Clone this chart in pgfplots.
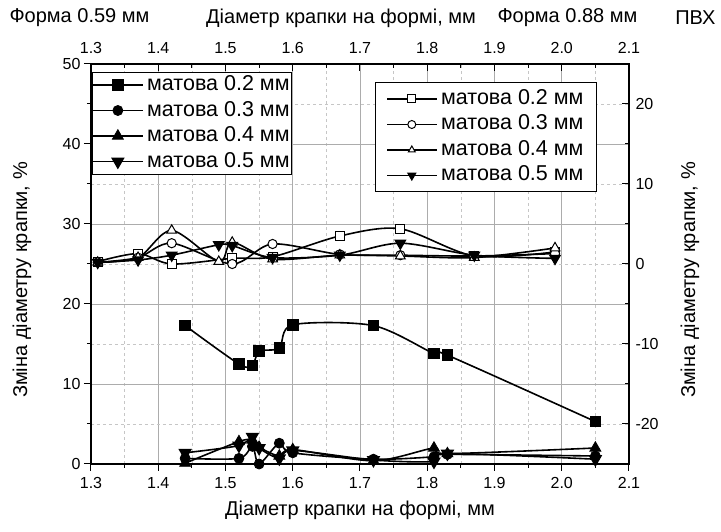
\documentclass[border=0pt]{standalone}
\usepackage{pgfplots}
\pgfplotsset{compat=1.18}
\usepackage{fontspec}
\setmainfont{Liberation Sans}

\newcommand{\tickfont}{\fontsize{16}{19}\selectfont}
\newcommand{\labfont}{\fontsize{20}{24}\selectfont}
\newcommand{\legfont}{\fontsize{21.5}{25}\selectfont}

\pgfplotsset{
  shared/.style={
    scale only axis, width=538pt, height=400pt,
    at={(0pt,0pt)}, anchor=south west,
    xmin=1.3, xmax=2.1,
    xtick={1.3,1.4,1.5,1.6,1.7,1.8,1.9,2.0,2.1},
    minor xtick={1.35,1.45,1.55,1.65,1.75,1.85,1.95,2.05},
    axis line style={line width=1.2pt},
    tick style={black, line width=1pt},
    major tick length=7pt, minor tick length=4pt,
    ticklabel style={font=\tickfont},
    /pgf/number format/assume math mode=true,
    xticklabel={\pgfmathprintnumber[fixed,fixed zerofill,precision=1]{\tick}},
    yticklabel={\pgfmathprintnumber[fixed,precision=0]{\tick}},
    legend cell align=left,
    legend style={font=\legfont, draw=black, line width=1pt, fill=white,
      row sep=2.5pt, column sep=2pt,
      nodes={inner ysep=2pt, inner xsep=2pt, text height=15pt, text depth=4pt}},
    legend image code/.code={
      \draw[mark repeat=2, mark phase=2, #1]
        plot coordinates {(0pt,0pt) (24.5pt,0pt) (49pt,0pt)};
    },
  },
  full/.style={black, line width=1.6pt, smooth, tension=0.5,
    mark options={solid, fill=black, draw=black, line width=0.8pt}},
  hollow/.style={black, line width=1.6pt, smooth, tension=0.5,
    mark options={solid, fill=white, draw=black, line width=1pt}},
}

% filled markers, left axis
\pgfplotstableread{
x     m02   m03   m04   m05
1.44  17.3  0.7   0.1   1.4
1.52  12.5  0.7   2.8   2.3
1.54  12.3  2.2   3.0   3.4
1.55  14.1  0.0   2.1   2.0
1.58  14.5  2.6   1.0   0.7
1.60  17.4  1.4   1.8   1.7
1.72  17.3  0.6   0.4   0.5
1.81  13.8  0.9   2.0   0.3
1.83  13.6  1.2   1.3   1.3
2.05  5.3   1.0   2.0   0.6
}\filled

% hollow markers, right axis
\pgfplotstableread{
x     h02
1.31  0.3
1.37  1.3
1.42  0.0
1.51  0.7
1.57  0.9
1.67  3.5
1.76  4.4
1.87  1.0
1.99  1.5
}\hsq

\pgfplotstableread{
x     h03
1.31  0.2
1.37  0.8
1.42  2.6
1.51  0.0
1.57  2.5
1.67  1.2
1.76  1.1
1.87  1.0
1.99  1.3
}\hci

\pgfplotstableread{
x     h04
1.31  0.2
1.37  0.8
1.42  4.2
1.49  0.3
1.51  2.7
1.57  0.6
1.67  1.1
1.76  1.0
1.87  0.8
1.99  2.0
}\htr

\pgfplotstableread{
x     h05
1.31  0.2
1.37  0.5
1.42  1.1
1.49  2.4
1.51  2.3
1.57  0.8
1.67  1.1
1.76  2.6
1.87  1.1
1.99  0.7
}\hdt

\begin{document}
\begin{tikzpicture}
% lower/left axis: filled markers
\begin{axis}[shared,
  ymin=0, ymax=50,
  ytick={0,10,20,30,40,50}, minor ytick={5,15,25,35,45},
  xtick pos=left, ytick pos=left,
  xticklabel pos=left, yticklabel pos=left,
  xticklabel style={yshift=-3pt},
  tick align=outside,
  grid=both,
  major grid style={gray!65, line width=0.8pt, solid},
  minor grid style={gray!45, line width=0.6pt, dashed},
  xlabel={Діаметр крапки на формі, мм},
  ylabel={Зміна діаметру крапки, \%},
  every axis x label/.style={at={(axis description cs:0.5,0)}, anchor=center, yshift=-46pt, font=\labfont},
  every axis y label/.style={at={(axis description cs:0,0.46)}, rotate=90, anchor=center, yshift=69pt, font=\labfont},
  legend style={at={(rel axis cs:0.002,0.98)}, anchor=north west,
    inner xsep=0pt, inner ysep=1pt},
]
\addplot[full, mark=square*, mark size=5.3pt] table[x=x, y=m02] {\filled};
\addlegendentry{матова 0.2 мм}
\addplot[full, mark=*, mark size=5pt] table[x=x, y=m03] {\filled};
\addlegendentry{матова 0.3 мм}
\addplot[full, mark=triangle*, mark size=6.3pt] table[x=x, y=m04] {\filled};
\addlegendentry{матова 0.4 мм}
\addplot[full, mark=triangle*, mark options={rotate=180}, mark size=6.3pt] table[x=x, y=m05] {\filled};
\addlegendentry{матова 0.5 мм}
\end{axis}

% upper/right axis: hollow markers
\begin{axis}[shared,
  ymin=-25, ymax=25,
  ytick={-20,-10,0,10,20}, minor ytick={-15,-5,5,15},
  xtick pos=right, ytick pos=right,
  xticklabel pos=right, yticklabel pos=right,
  xticklabel style={yshift=7pt},
  yticklabel style={xshift=3pt},
  tick align=inside,
  ylabel={Зміна діаметру крапки, \%},
  every axis y label/.style={at={(axis description cs:1,0.46)}, rotate=90, anchor=center, yshift=-61pt, font=\labfont},
  legend style={at={(rel axis cs:0.9405,0.955)}, anchor=north east,
    inner xsep=11pt, inner ysep=5pt},
  legend image post style={mark size=4pt},
]
\addplot[hollow, mark=square*, mark size=4.5pt] table[x=x, y=h02] {\hsq};
\addlegendentry{матова 0.2 мм}
\addplot[hollow, mark=*, mark size=4.6pt] table[x=x, y=h03] {\hci};
\addlegendentry{матова 0.3 мм}
\addplot[hollow, mark=triangle*, mark size=5.6pt] table[x=x, y=h04] {\htr};
\addlegendentry{матова 0.4 мм}
\addplot[hollow, mark=triangle*, mark options={rotate=180}, mark size=5.6pt] table[x=x, y=h05] {\hdt};
\addlegendentry{матова 0.5 мм}
\end{axis}

% titles above the top axis
\node[font=\labfont, anchor=west] at (-85pt,446pt) {Форма 0.59 мм};
\node[font=\labfont, anchor=center] at (250pt,446pt) {Діаметр крапки на формі, мм};
\node[font=\labfont, anchor=west] at (403pt,446pt) {Форма 0.88 мм};
\node[font=\labfont, anchor=east] at (628pt,446pt) {ПВХ};
\useasboundingbox (-91pt,-68pt) rectangle (630pt,464pt);
\end{tikzpicture}
\end{document}
